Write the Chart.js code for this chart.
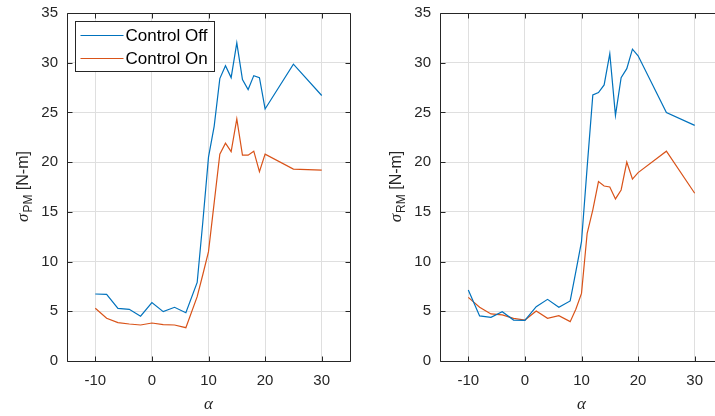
<!DOCTYPE html>
<html><head><meta charset="utf-8">
<script src="https://cdn.jsdelivr.net/npm/chart.js@4"></script>
<style>
html,body{margin:0;padding:0;background:#fff;overflow:hidden;width:715px;height:416px;}
#wrap{position:relative;width:715px;height:416px;overflow:hidden;background:#fff;}
.c{position:absolute;top:0;width:360px;height:416px;}
</style></head><body>
<div id="wrap">
<div class="c" style="left:0px"><canvas id="left" width="360" height="416"></canvas></div>
<div class="c" style="left:373px"><canvas id="right" width="360" height="416"></canvas></div>
</div>
<script>
// ---- data ----
const alpha = [-10,-8,-6,-4,-2,0,2,4,6,8,9,10,11,12,13,14,15,16,17,18,19,20,25,30];
const pmOff = [6.74,6.7,5.3,5.2,4.5,5.87,4.96,5.4,4.86,7.9,14.0,20.5,23.6,28.4,29.7,28.5,32.0,28.3,27.3,28.7,28.5,25.35,29.85,26.7];
const pmOn  = [5.3,4.3,3.86,3.72,3.62,3.82,3.65,3.62,3.35,6.47,8.7,11.0,15.9,20.8,21.9,21.06,24.35,20.7,20.7,21.1,19.05,20.8,19.3,19.2];
const rmOff = [7.14,4.53,4.39,4.96,4.12,4.09,5.46,6.2,5.4,6.04,9.0,12.0,19.5,26.76,27.0,27.77,30.9,24.7,28.5,29.4,31.36,30.7,25.0,23.7];
const rmOn  = [6.4,5.4,4.73,4.63,4.29,4.12,5.03,4.29,4.56,3.96,5.2,6.8,12.85,15.2,18.04,17.6,17.5,16.3,17.2,20.0,18.3,18.95,21.1,16.87];
const seriesLabels = ['Control Off','Control On'];
const xTicks = [-10,0,10,20,30];
const yTicks = [0,5,10,15,20,25,30,35];
const xLabel = 'α';
const yLabelMain = 'σ';
const yLabelUnit = ' [N-m]';
const leftSub = 'PM';
const rightSub = 'RM';

const BLUE = '#0072BD', ORANGE = '#D95319', AX = '#262626', GRID = '#dfdfdf';
const SANS = "'Liberation Sans', Arial, Helvetica, sans-serif";

const decor = {
  id: 'decor',
  afterDraw(chart, args, opts) {
    const {ctx, chartArea: a, scales: {x, y}} = chart;
    ctx.save();
    ctx.strokeStyle = AX; ctx.lineWidth = 1;
    const L = Math.round(a.left) + 0.5, R = Math.round(a.right) + 0.5,
          T = Math.round(a.top) + 0.5, B = Math.round(a.bottom) + 0.5;
    ctx.beginPath();
    ctx.moveTo(L, T); ctx.lineTo(R, T); ctx.lineTo(R, B); ctx.lineTo(L, B); ctx.closePath();
    const tl = 5;
    x.ticks.forEach(t => { const p = Math.round(x.getPixelForValue(t.value)) + 0.5;
      ctx.moveTo(p, B); ctx.lineTo(p, B - tl); ctx.moveTo(p, T); ctx.lineTo(p, T + tl); });
    y.ticks.forEach(t => { const p = Math.round(y.getPixelForValue(t.value)) + 0.5;
      ctx.moveTo(L, p); ctx.lineTo(L + tl, p); ctx.moveTo(R, p); ctx.lineTo(R - tl, p); });
    ctx.stroke();

    // y axis title with subscript
    ctx.save();
    ctx.translate(a.left - 39, (a.top + a.bottom) / 2);
    ctx.rotate(-Math.PI / 2);
    ctx.fillStyle = AX; ctx.textBaseline = 'alphabetic'; ctx.textAlign = 'left';
    const f1 = "italic 17px 'Liberation Serif', serif", f2 = "12px " + SANS, f3 = "16px " + SANS;
    ctx.font = f1; const w1 = ctx.measureText(yLabelMain).width;
    ctx.font = f2; const w2 = ctx.measureText(opts.sub).width;
    ctx.font = f3; const w3 = ctx.measureText(yLabelUnit).width;
    let sx = -(w1 + w2 + w3) / 2;
    ctx.font = f1; ctx.fillText(yLabelMain, sx, 0); sx += w1 + 1;
    ctx.font = f2; ctx.fillText(opts.sub, sx, 4); sx += w2;
    ctx.font = f3; ctx.fillText(yLabelUnit, sx, 0);
    ctx.restore();

    // legend
    if (opts.legend) {
      const lx = Math.round(a.left) + 8.5, ly = Math.round(a.top) + 8.5, lw = 139, lh = 50;
      ctx.fillStyle = '#fff'; ctx.fillRect(lx, ly, lw, lh);
      ctx.strokeStyle = AX; ctx.strokeRect(lx, ly, lw, lh);
      chart.data.datasets.forEach((ds, i) => {
        const yy = ly + 14 + i * 23;
        ctx.strokeStyle = ds.borderColor; ctx.lineWidth = 1.2;
        ctx.beginPath(); ctx.moveTo(lx + 5, yy); ctx.lineTo(lx + 48, yy); ctx.stroke();
        ctx.fillStyle = '#000'; ctx.font = "17px " + SANS; ctx.textBaseline = 'middle';
        ctx.fillText(ds.label, lx + 50, yy + 1);
      });
    }
    ctx.restore();
  }
};

function makeChart(id, off, on, sub, legend) {
  return new Chart(document.getElementById(id), {
    type: 'line',
    data: {
      datasets: [
        {label: seriesLabels[0], data: alpha.map((a, i) => ({x: a, y: off[i]})), borderColor: BLUE, borderWidth: 1.2, pointRadius: 0, tension: 0, fill: false},
        {label: seriesLabels[1], data: alpha.map((a, i) => ({x: a, y: on[i]})), borderColor: ORANGE, borderWidth: 1.2, pointRadius: 0, tension: 0, fill: false}
      ]
    },
    options: {
      responsive: false, animation: false, devicePixelRatio: 1,
      layout: {padding: {left: 0, right: 10, top: 13, bottom: 0}},
      plugins: {legend: {display: false}, tooltip: {enabled: false}, decor: {sub: sub, legend: legend}},
      scales: {
        x: {
          type: 'linear', min: -15, max: 35,
          afterBuildTicks: s => { s.ticks = xTicks.map(v => ({value: v})); },
          afterFit: s => { s.height = 55; s.paddingLeft = 0; s.paddingRight = 0; s.paddingTop = 0; s.paddingBottom = 0; },
          grid: {color: GRID, drawTicks: false, lineWidth: 1},
          border: {display: false},
          ticks: {color: AX, font: {family: SANS, size: 15}, padding: 11, maxRotation: 0},
          title: {display: true, text: xLabel, color: AX, font: {family: "'Liberation Serif', serif", size: 17, style: 'italic'}, padding: {top: 0, bottom: 1}}
        },
        y: {
          type: 'linear', min: 0, max: 35,
          afterBuildTicks: s => { s.ticks = yTicks.map(v => ({value: v})); },
          afterFit: s => { s.width = 67; s.paddingTop = 0; s.paddingBottom = 0; s.paddingLeft = 0; s.paddingRight = 0; },
          grid: {color: GRID, drawTicks: false, lineWidth: 1},
          border: {display: false},
          ticks: {color: AX, font: {family: SANS, size: 15}, padding: 9}
        }
      }
    },
    plugins: [decor]
  });
}
makeChart('left', pmOff, pmOn, leftSub, true);
makeChart('right', rmOff, rmOn, rightSub, false);
</script>
</body></html>
